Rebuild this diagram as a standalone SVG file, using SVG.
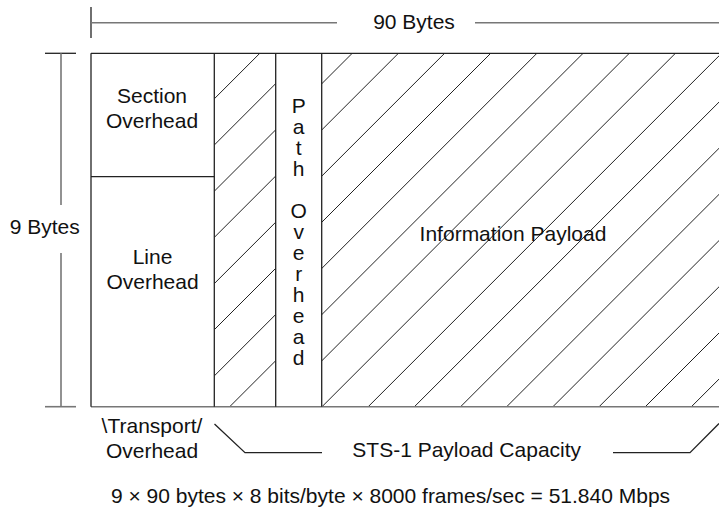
<svg xmlns="http://www.w3.org/2000/svg" width="719" height="513" viewBox="0 0 719 513">
<style>
text{font-family:"Liberation Sans",Arial,sans-serif;font-size:21px;fill:#111}
.c{text-anchor:middle}
.f{stroke:#222;stroke-width:1.3;fill:none}
.g{stroke:#777;stroke-width:1.6;fill:none}
.d{stroke:#222;stroke-width:1.3;fill:none}
.h{stroke:#222;stroke-width:1;fill:none}
</style>
<defs>
<clipPath id="hc1"><rect x="214.3" y="53.3" width="61.4" height="353.4"/></clipPath>
<clipPath id="hc2"><rect x="321.7" y="53.3" width="398" height="353.4"/></clipPath>
<g id="hatch">
<path class="h" d="M267,0 L0,267 M313.1,0 L0,313.1 M359.3,0 L0,359.3 M405.5,0 L0,405.5 M451.7,0 L0,451.7 M497.9,0 L0,497.9 M544,0 L0,544 M590.2,0 L0,590.2 M636.4,0 L0,636.4 M682.6,0 L0,682.6 M728.7,0 L0,728.7 M774.9,0 L0,774.9 M821.1,0 L0,821.1 M867.3,0 L0,867.3 M913.4,0 L0,913.4 M959.6,0 L0,959.6 M1005.8,0 L0,1005.8 M1052,0 L0,1052 M1098.1,0 L0,1098.1 M1144.3,0 L0,1144.3"/>
</g>
</defs>
<g id="connectors">
<!-- top dimension -->
<line class="d" x1="91" y1="7" x2="91" y2="38"/>
<line class="g" x1="91" y1="22.7" x2="337" y2="22.7"/>
<line class="g" x1="475" y1="22.7" x2="719" y2="22.7"/>
<!-- left dimension -->
<line class="d" x1="45" y1="53.3" x2="76" y2="53.3"/>
<line class="g" x1="45" y1="406.7" x2="76" y2="406.7"/>
<line class="g" x1="61" y1="53.3" x2="61" y2="205"/>
<line class="g" x1="61" y1="253" x2="61" y2="406.7"/>
<!-- bottom brace -->
<polyline class="f" points="214.5,424 245,452.7 322,452.7"/>
<polyline class="f" points="613,452.7 690,452.7 719,423.5"/>
</g>
<g id="hatching">
<use href="#hatch" clip-path="url(#hc1)"/>
<use href="#hatch" clip-path="url(#hc2)"/>
</g>
<g id="frame">
<line class="f" x1="91" y1="53.3" x2="719" y2="53.3"/>
<line class="g" x1="91" y1="406.7" x2="719" y2="406.7"/>
<line class="f" x1="91" y1="53.3" x2="91" y2="406.7"/>
<line class="f" x1="214.3" y1="53.3" x2="214.3" y2="406.7"/>
<line class="f" x1="275.7" y1="53.3" x2="275.7" y2="406.7"/>
<line class="f" x1="321.7" y1="53.3" x2="321.7" y2="406.7"/>
<line class="f" x1="91" y1="176.7" x2="214.3" y2="176.7"/>
</g>
<g id="section-overhead">
<text class="c" x="152" y="103.3">Section</text>
<text class="c" x="152" y="127.7">Overhead</text>
</g>
<g id="line-overhead">
<text class="c" x="152.5" y="264">Line</text>
<text class="c" x="152.5" y="289">Overhead</text>
</g>
<g id="path-overhead">
<text class="c" x="298.7" y="112.7">P</text>
<text class="c" x="298.7" y="133.7">a</text>
<text class="c" x="298.7" y="154.7">t</text>
<text class="c" x="298.7" y="175.7">h</text>
<text class="c" x="298.7" y="217.7">O</text>
<text class="c" x="298.7" y="238.7">v</text>
<text class="c" x="298.7" y="259.7">e</text>
<text class="c" x="298.7" y="280.7">r</text>
<text class="c" x="298.7" y="301.7">h</text>
<text class="c" x="298.7" y="322.7">e</text>
<text class="c" x="298.7" y="343.7">a</text>
<text class="c" x="298.7" y="364.7">d</text>
</g>
<g id="information-payload">
<text class="c" x="513" y="240.7">Information Payload</text>
</g>
<g id="labels">
<text class="c" x="414" y="28.5">90 Bytes</text>
<text class="c" x="44.7" y="234">9 Bytes</text>
<text class="c" x="152" y="433.3">\Transport/</text>
<text class="c" x="152" y="458.3">Overhead</text>
<text class="c" x="466.7" y="456.7">STS-1 Payload Capacity</text>
<text class="c" x="390.5" y="503.3">9 × 90 bytes × 8 bits/byte × 8000 frames/sec = 51.840 Mbps</text>
</g>
</svg>
